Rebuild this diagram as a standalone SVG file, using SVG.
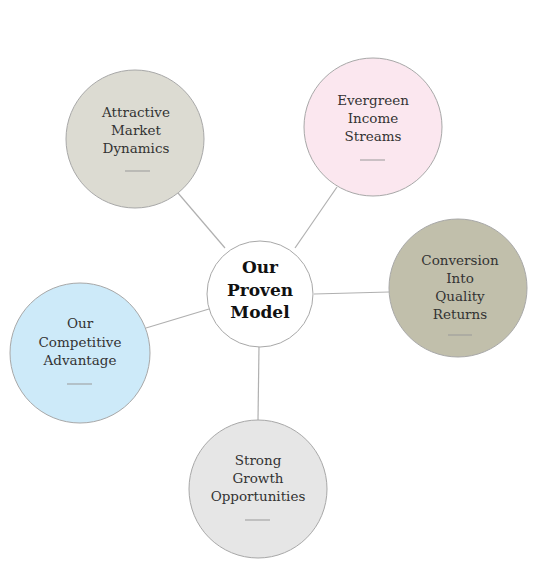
<svg xmlns="http://www.w3.org/2000/svg" width="538" height="582" viewBox="0 0 538 582">
<style>
.node{stroke:#a8a8a8;stroke-width:1}
.lbl{font-family:"DejaVu Serif","Liberation Serif",serif;font-size:13.5px;fill:#333;text-anchor:middle}
.ctr{font-family:"DejaVu Serif","Liberation Serif",serif;font-size:17px;font-weight:bold;fill:#111;text-anchor:middle}
.dash{stroke:#999;stroke-width:1}
.conn line{stroke:#b0b0b0;stroke-width:1.2}
</style>
<rect width="538" height="582" fill="#fff"/>
<g id="connectors" class="conn">
<line x1="178" y1="193" x2="225" y2="248"/>
<line x1="337" y1="187" x2="295" y2="248"/>
<line x1="314" y1="294" x2="389" y2="292"/>
<line x1="146" y1="328" x2="209" y2="309"/>
<line x1="259" y1="346" x2="258" y2="420"/>
</g>
<g id="center">
<circle class="node" cx="260" cy="294" r="53" fill="#fff"/>
<text class="ctr" x="260" y="273">Our</text>
<text class="ctr" x="260" y="296">Proven</text>
<text class="ctr" x="260" y="318">Model</text>
</g>
<g id="attractive">
<circle class="node" cx="135" cy="139" r="69" fill="#dcdbd2"/>
<text class="lbl" x="136" y="117">Attractive</text>
<text class="lbl" x="136" y="135">Market</text>
<text class="lbl" x="136" y="153">Dynamics</text>
<line class="dash" x1="125" y1="171" x2="150" y2="171"/>
</g>
<g id="evergreen">
<circle class="node" cx="373" cy="127" r="69" fill="#fbe7ef"/>
<text class="lbl" x="373" y="105">Evergreen</text>
<text class="lbl" x="373" y="123">Income</text>
<text class="lbl" x="373" y="141">Streams</text>
<line class="dash" x1="360" y1="160" x2="385" y2="160"/>
</g>
<g id="conversion">
<circle class="node" cx="458" cy="288" r="69" fill="#c1bfab"/>
<text class="lbl" x="460" y="265">Conversion</text>
<text class="lbl" x="460" y="283">Into</text>
<text class="lbl" x="460" y="301">Quality</text>
<text class="lbl" x="460" y="319">Returns</text>
<line class="dash" x1="448" y1="335" x2="472" y2="335"/>
</g>
<g id="competitive">
<circle class="node" cx="80" cy="353" r="70" fill="#cdeaf9"/>
<text class="lbl" x="80" y="328">Our</text>
<text class="lbl" x="80" y="347">Competitive</text>
<text class="lbl" x="80" y="365">Advantage</text>
<line class="dash" x1="67" y1="384" x2="92" y2="384"/>
</g>
<g id="growth">
<circle class="node" cx="258" cy="489" r="69" fill="#e6e6e6"/>
<text class="lbl" x="258" y="465">Strong</text>
<text class="lbl" x="258" y="483">Growth</text>
<text class="lbl" x="258" y="501">Opportunities</text>
<line class="dash" x1="245" y1="520" x2="270" y2="520"/>
</g>
</svg>
